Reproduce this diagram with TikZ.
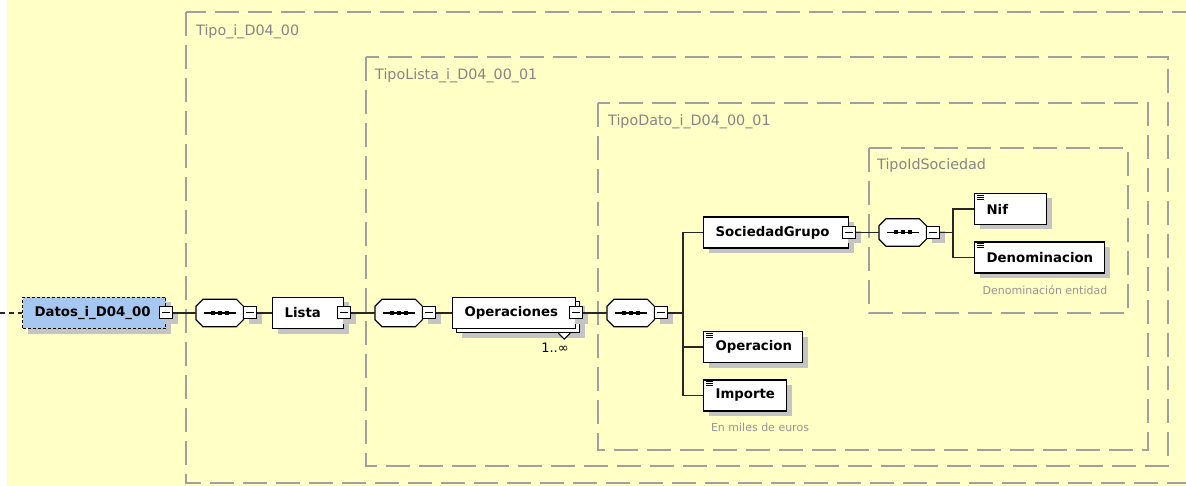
\documentclass[tikz,border=0pt]{standalone}
\usepackage{fontspec}
\setmainfont{DejaVu Sans}
\usetikzlibrary{shadows}
\definecolor{bg}{HTML}{FFFFC6}
\definecolor{cline}{HTML}{A0A0A0}
\definecolor{ctext}{HTML}{858585}
\definecolor{atext}{HTML}{959595}
\definecolor{shadowc}{HTML}{C4C4C4}
\definecolor{datosfill}{HTML}{A6C8F0}
\tikzset{
  shad/.style={drop shadow={shadow xshift=5pt, shadow yshift=-5pt, fill=shadowc, opacity=1}},
  boxbase/.style={draw=black, line width=1.2pt, fill=white, minimum height=31pt,
    inner xsep=12pt, inner ysep=0pt, align=left, anchor=west,
    font=\fontsize{13.3}{16}\selectfont\bfseries},
  elem/.style={boxbase, shad},
  simple/.style={path picture={
      \foreach \k in {1.6,3.6,5.6}{
        \draw[line width=0.9pt] ([xshift=2pt,yshift=-\k pt]path picture bounding box.north west) -- ++(7pt,0pt);}}},
  minus/.style={draw=black, line width=1pt, fill=white, shad, minimum width=13pt,
    minimum height=12pt, inner sep=0pt,
    path picture={\draw[line width=1pt] ([xshift=2.5pt]path picture bounding box.west) -- ([xshift=-2.5pt]path picture bounding box.east);}},
  seqbox/.style={rectangle, draw=none, minimum width=47pt, minimum height=27pt, inner sep=0pt, anchor=west},
  octo/.style={draw=black, line width=1.2pt, fill=white},
  conn/.style={draw=black!85, line width=1.2pt},
  cont/.style={draw=cline, line width=1.3pt, dash pattern=on 24pt off 9pt},
  contlabel/.style={anchor=west, inner sep=0pt, text=ctext, font=\fontsize{14.3}{17}\selectfont},
  annot/.style={inner sep=0pt, text=atext, font=\fontsize{11}{13}\selectfont},
}
\newcommand\octpath[1]{([xshift=7pt]#1.north west) -- ([xshift=-7pt]#1.north east) -- ([yshift=-7pt]#1.north east) -- ([yshift=7pt]#1.south east) -- ([xshift=-7pt]#1.south east) -- ([xshift=7pt]#1.south west) -- ([yshift=7pt]#1.south west) -- ([yshift=-7pt]#1.north west) -- cycle}
\newcommand\drawseq[1]{%
  \fill[shadowc, xshift=5pt, yshift=-5pt] \octpath{#1};
  \draw[octo] \octpath{#1};
  \draw[line width=1.2pt] ([xshift=-16pt]#1.center) -- ([xshift=16pt]#1.center);
  \foreach \d in {-7,0,7}{\fill ([xshift=\d pt-2pt,yshift=-2pt]#1.center) rectangle ++(4pt,4pt);}%
}
\begin{document}
\begin{tikzpicture}[x=1pt,y=-1pt]
\useasboundingbox (0,0) rectangle (1186,486);
\clip (0,0) rectangle (1186,486);
\fill[bg] (7,0) rectangle (1186,486);

% containers
\draw[cont] (186,12) rectangle (1210,483);
\node[contlabel] (lTipo) at (196,32) {Tipo\_i\_D04\_00};
\draw[cont] (366,57) rectangle (1168,466);
\node[contlabel] (lLista) at (375,76) {TipoLista\_i\_D04\_00\_01};
\draw[cont] (598,103) rectangle (1148,450);
\node[contlabel] (lDato) at (608,122) {TipoDato\_i\_D04\_00\_01};
\draw[cont] (869,148) rectangle (1128,313);
\node[contlabel] (lSoc) at (877,166) {TipoIdSociedad};

% root
\coordinate (lin) at (0,313);
\node[elem, fill=datosfill, dash pattern=on 3pt off 2pt, text width=119pt] (datos) at (22,313) {Datos\_i\_D04\_00};
\node[minus] (datosm) at (datos.east) {};

\node[seqbox] (seq1) at (196,313) {};
\drawseq{seq1}
\node[minus, anchor=west] (seq1m) at (seq1.east) {};

\node[elem, text width=47pt] (lista) at (272,313) {Lista};
\node[minus] (listam) at (lista.east) {};

\node[seqbox] (seq2) at (375,313) {};
\drawseq{seq2}
\node[minus, anchor=west] (seq2m) at (seq2.east) {};

\node[elem, text width=99pt] (operb) at (456,317) {\phantom{X}};
\draw[draw=black, line width=1pt, fill=white] ([xshift=-22pt]operb.south east) -- ([xshift=-16pt,yshift=-6pt]operb.south east) -- ([xshift=-10pt]operb.south east);
\node[boxbase, text width=99pt] (oper) at (452,313) {Operaciones};
\node[minus] (operm) at (oper.east) {};
\node[inner sep=0pt, font=\fontsize{13}{15}\selectfont] (mult) at (555,348) {1..∞};

\node[seqbox] (seq3) at (607,313) {};
\drawseq{seq3}
\node[minus, anchor=west] (seq3m) at (seq3.east) {};
\coordinate (b1) at (683,313);

\node[elem, text width=121pt] (soc) at (703,232.5) {SociedadGrupo};
\node[minus] (socm) at (soc.east) {};

\node[seqbox] (seq4) at (879,232.5) {};
\drawseq{seq4}
\node[minus, anchor=west] (seq4m) at (seq4.east) {};
\coordinate (b2) at (953,232.5);

\node[elem, simple, text width=48pt] (nif) at (974,209) {Nif};
\node[elem, simple, text width=106pt] (denom) at (974,257.5) {Denominacion};
\node[annot] (denoma) at (1045,290) {Denominación entidad};

\node[elem, simple, text width=75pt] (operacion) at (703,347) {Operacion};
\node[elem, simple, text width=59pt] (importe) at (703,395.5) {Importe};
\node[annot] (importea) at (760,427) {En miles de euros};

% connectors
\draw[conn, dash pattern=on 5pt off 4pt] (lin) -- (datos.west);
\draw[conn] (datosm.east) -- (seq1.west);
\draw[conn] (seq1m.east) -- (lista.west);
\draw[conn] (listam.east) -- (seq2.west);
\draw[conn] (seq2m.east) -- (oper.west);
\draw[conn] (operm.east) -- (seq3.west);
\draw[conn] (seq3m.east) -- (b1);
\draw[conn] (b1) |- (soc.west);
\draw[conn] (b1) |- (operacion.west);
\draw[conn] (b1) |- (importe.west);
\draw[conn] (socm.east) -- (seq4.west);
\draw[conn] (seq4m.east) -- (b2);
\draw[conn] (b2) |- (nif.west);
\draw[conn] (b2) |- (denom.west);
\end{tikzpicture}
\end{document}
